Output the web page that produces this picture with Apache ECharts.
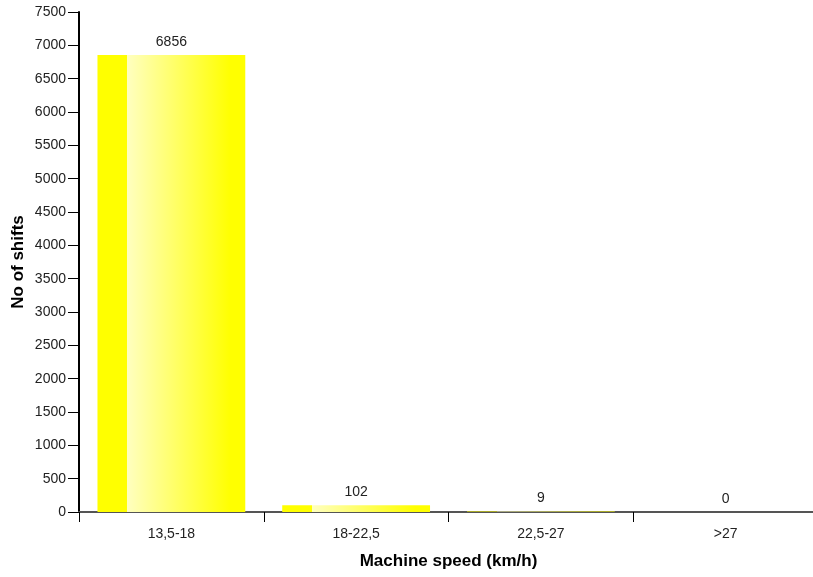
<!DOCTYPE html>
<html><head><meta charset="utf-8">
<script src="https://cdn.jsdelivr.net/npm/echarts@6/dist/echarts.min.js"></script>
<style>html,body{margin:0;padding:0;background:#fff}#c{width:813px;height:577px}</style>
</head><body><div id="c"></div>
<script>
var categories = ['13,5-18', '18-22,5', '22,5-27', '>27'];
var values = [6856, 102, 9, 0];
var yTicks = {min: 0, max: 7500, interval: 500};

var grad = new echarts.graphic.LinearGradient(0, 0, 1, 0, [
  {offset: 0, color: '#ffff00'},
  {offset: 0.2, color: '#ffff00'},
  {offset: 0.2, color: '#ffffc0'},
  {offset: 0.9, color: '#ffff00'},
  {offset: 1, color: '#ffff00'}
]);

var chart = echarts.init(document.getElementById('c'), null, {renderer: 'canvas'});
chart.setOption({
  animation: false,
  textStyle: {fontFamily: 'Liberation Sans, Arial, sans-serif'},
  grid: {left: 79, top: 12, width: 739, bottom: 65, containLabel: false, outerBoundsMode: 'none'},
  xAxis: {
    type: 'category',
    data: categories,
    boundaryGap: true,
    name: 'Machine speed (km/h)',
    nameLocation: 'middle',
    nameGap: 41,
    nameTextStyle: {fontSize: 17, fontWeight: 'bold', color: '#000'},
    axisLine: {lineStyle: {color: '#555', width: 2}},
    axisTick: {show: true, length: 10, lineStyle: {color: '#000', width: 1}},
    axisLabel: {fontSize: 14, color: '#222', margin: 15}
  },
  yAxis: {
    type: 'value',
    min: yTicks.min, max: yTicks.max, interval: yTicks.interval,
    name: 'No of shifts',
    nameLocation: 'middle',
    nameGap: 52,
    nameMoveOverlap: false,
    nameRotate: 90,
    nameTextStyle: {fontSize: 17, fontWeight: 'bold', color: '#000'},
    axisLine: {show: true, lineStyle: {color: '#000', width: 2}},
    axisTick: {show: true, length: 11, lineStyle: {color: '#000', width: 1}},
    axisLabel: {fontSize: 14, color: '#222', margin: 13, formatter: function (v) { return String(v); }},
    splitLine: {show: false}
  },
  series: [{
    type: 'bar',
    data: values,
    barWidth: '80%',
    itemStyle: {color: grad},
    label: {show: true, position: 'top', distance: 6, fontSize: 14, color: '#222'}
  }]
});
</script></body></html>
